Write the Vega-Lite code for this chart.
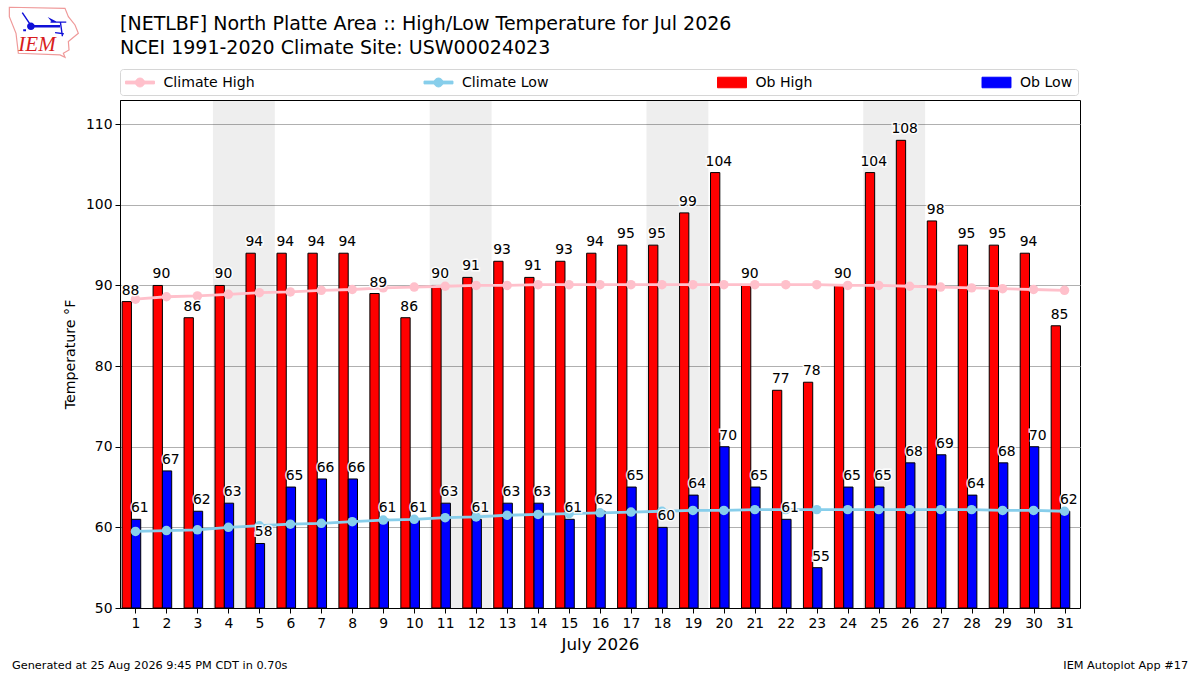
{"$schema":"https://vega.github.io/schema/vega-lite/v6.json","width":960,"height":508,"autosize":"none","padding":{"left":120,"top":100,"right":120,"bottom":67},"background":"white",
"config":{"font":"DejaVu Sans","view":{"stroke":"black","strokeWidth":1},"text":{"font":"DejaVu Sans"}},
"title":{"text":["[NETLBF] North Platte Area :: High/Low Temperature for Jul 2026","NCEI 1991-2020 Climate Site: USW00024023"],"anchor":"start","frame":"group","font":"DejaVu Sans","fontSize":19,"fontWeight":"normal","color":"black","lineHeight":24,"offset":-53},
"datasets":{"weekends":[{"start":3.5,"end":5.5},{"start":10.5,"end":12.5},{"start":17.5,"end":19.5},{"start":24.5,"end":26.5}],
"obhigh":[{"day":1,"series":"Ob High","value":88},{"day":2,"series":"Ob High","value":90},{"day":3,"series":"Ob High","value":86},{"day":4,"series":"Ob High","value":90},{"day":5,"series":"Ob High","value":94},{"day":6,"series":"Ob High","value":94},{"day":7,"series":"Ob High","value":94},{"day":8,"series":"Ob High","value":94},{"day":9,"series":"Ob High","value":89},{"day":10,"series":"Ob High","value":86},{"day":11,"series":"Ob High","value":90},{"day":12,"series":"Ob High","value":91},{"day":13,"series":"Ob High","value":93},{"day":14,"series":"Ob High","value":91},{"day":15,"series":"Ob High","value":93},{"day":16,"series":"Ob High","value":94},{"day":17,"series":"Ob High","value":95},{"day":18,"series":"Ob High","value":95},{"day":19,"series":"Ob High","value":99},{"day":20,"series":"Ob High","value":104},{"day":21,"series":"Ob High","value":90},{"day":22,"series":"Ob High","value":77},{"day":23,"series":"Ob High","value":78},{"day":24,"series":"Ob High","value":90},{"day":25,"series":"Ob High","value":104},{"day":26,"series":"Ob High","value":108},{"day":27,"series":"Ob High","value":98},{"day":28,"series":"Ob High","value":95},{"day":29,"series":"Ob High","value":95},{"day":30,"series":"Ob High","value":94},{"day":31,"series":"Ob High","value":85}],
"oblow":[{"day":1,"series":"Ob Low","value":61},{"day":2,"series":"Ob Low","value":67},{"day":3,"series":"Ob Low","value":62},{"day":4,"series":"Ob Low","value":63},{"day":5,"series":"Ob Low","value":58},{"day":6,"series":"Ob Low","value":65},{"day":7,"series":"Ob Low","value":66},{"day":8,"series":"Ob Low","value":66},{"day":9,"series":"Ob Low","value":61},{"day":10,"series":"Ob Low","value":61},{"day":11,"series":"Ob Low","value":63},{"day":12,"series":"Ob Low","value":61},{"day":13,"series":"Ob Low","value":63},{"day":14,"series":"Ob Low","value":63},{"day":15,"series":"Ob Low","value":61},{"day":16,"series":"Ob Low","value":62},{"day":17,"series":"Ob Low","value":65},{"day":18,"series":"Ob Low","value":60},{"day":19,"series":"Ob Low","value":64},{"day":20,"series":"Ob Low","value":70},{"day":21,"series":"Ob Low","value":65},{"day":22,"series":"Ob Low","value":61},{"day":23,"series":"Ob Low","value":55},{"day":24,"series":"Ob Low","value":65},{"day":25,"series":"Ob Low","value":65},{"day":26,"series":"Ob Low","value":68},{"day":27,"series":"Ob Low","value":69},{"day":28,"series":"Ob Low","value":64},{"day":29,"series":"Ob Low","value":68},{"day":30,"series":"Ob Low","value":70},{"day":31,"series":"Ob Low","value":62}],
"climate":[{"day":1,"series":"Climate High","value":88.3},{"day":2,"series":"Climate High","value":88.6},{"day":3,"series":"Climate High","value":88.7},{"day":4,"series":"Climate High","value":88.9},{"day":5,"series":"Climate High","value":89.1},{"day":6,"series":"Climate High","value":89.2},{"day":7,"series":"Climate High","value":89.4},{"day":8,"series":"Climate High","value":89.5},{"day":9,"series":"Climate High","value":89.7},{"day":10,"series":"Climate High","value":89.8},{"day":11,"series":"Climate High","value":89.9},{"day":12,"series":"Climate High","value":90},{"day":13,"series":"Climate High","value":90},{"day":14,"series":"Climate High","value":90.1},{"day":15,"series":"Climate High","value":90.1},{"day":16,"series":"Climate High","value":90.1},{"day":17,"series":"Climate High","value":90.1},{"day":18,"series":"Climate High","value":90.1},{"day":19,"series":"Climate High","value":90.1},{"day":20,"series":"Climate High","value":90.1},{"day":21,"series":"Climate High","value":90.1},{"day":22,"series":"Climate High","value":90.1},{"day":23,"series":"Climate High","value":90.1},{"day":24,"series":"Climate High","value":90},{"day":25,"series":"Climate High","value":90},{"day":26,"series":"Climate High","value":89.9},{"day":27,"series":"Climate High","value":89.8},{"day":28,"series":"Climate High","value":89.7},{"day":29,"series":"Climate High","value":89.6},{"day":30,"series":"Climate High","value":89.5},{"day":31,"series":"Climate High","value":89.4},
{"day":1,"series":"Climate Low","value":59.5},{"day":2,"series":"Climate Low","value":59.6},{"day":3,"series":"Climate Low","value":59.7},{"day":4,"series":"Climate Low","value":60},{"day":5,"series":"Climate Low","value":60.2},{"day":6,"series":"Climate Low","value":60.4},{"day":7,"series":"Climate Low","value":60.5},{"day":8,"series":"Climate Low","value":60.7},{"day":9,"series":"Climate Low","value":60.9},{"day":10,"series":"Climate Low","value":61},{"day":11,"series":"Climate Low","value":61.2},{"day":12,"series":"Climate Low","value":61.3},{"day":13,"series":"Climate Low","value":61.5},{"day":14,"series":"Climate Low","value":61.6},{"day":15,"series":"Climate Low","value":61.7},{"day":16,"series":"Climate Low","value":61.8},{"day":17,"series":"Climate Low","value":61.9},{"day":18,"series":"Climate Low","value":62},{"day":19,"series":"Climate Low","value":62.1},{"day":20,"series":"Climate Low","value":62.1},{"day":21,"series":"Climate Low","value":62.2},{"day":22,"series":"Climate Low","value":62.2},{"day":23,"series":"Climate Low","value":62.2},{"day":24,"series":"Climate Low","value":62.2},{"day":25,"series":"Climate Low","value":62.2},{"day":26,"series":"Climate Low","value":62.2},{"day":27,"series":"Climate Low","value":62.2},{"day":28,"series":"Climate Low","value":62.2},{"day":29,"series":"Climate Low","value":62.1},{"day":30,"series":"Climate Low","value":62.1},{"day":31,"series":"Climate Low","value":62}],
"one":[{"note":"annotation"}]},
"layer":[
{"data":{"name":"weekends"},"mark":{"type":"rect","fill":"black","opacity":0.067},"encoding":{"x":{"field":"start","type":"quantitative","scale":{"domain":[0.5,31.5],"nice":false,"zero":false,"padding":0},"axis":{"title":"July 2026","titleFontSize":16.7,"titleFontWeight":"normal","titleColor":"black","titleFont":"DejaVu Sans","titlePadding":7,"tickCount":31,"values":[1,2,3,4,5,6,7,8,9,10,11,12,13,14,15,16,17,18,19,20,21,22,23,24,25,26,27,28,29,30,31],"format":"d","labelFontSize":13.9,"labelColor":"black","labelFont":"DejaVu Sans","labelPadding":3,"labelOverlap":false,"tickColor":"black","tickSize":5,"domainColor":"black","grid":false}},"x2":{"field":"end"}}},
{"data":{"name":"obhigh"},"mark":{"type":"bar","width":9.3,"xOffset":-8.7,"stroke":"black","strokeWidth":1},"encoding":{"x":{"field":"day","type":"quantitative"},"y":{"field":"value","type":"quantitative","scale":{"domain":[50,113],"nice":false,"zero":false},"axis":{"title":"Temperature °F","titleFontSize":14.2,"titleFontWeight":"normal","titleColor":"black","titleFont":"DejaVu Sans","titlePadding":8,"values":[50,60,70,80,90,100,110],"labelFontSize":13.9,"labelColor":"black","labelFont":"DejaVu Sans","labelPadding":3,"tickColor":"black","tickSize":5,"domainColor":"black","grid":true,"gridColor":"#b0b0b0","gridWidth":1}},"y2":{"datum":50},"color":{"field":"series","type":"nominal","scale":{"domain":["Climate High","Climate Low","Ob High","Ob Low"],"range":["#FFC0CB","#87CEEB","#FF0000","#0000FF"]},"legend":{"title":null,"orient":"none","legendX":0,"legendY":-31,"direction":"horizontal","columns":4,"gridAlign":"none","columnPadding":166.5,"padding":5,"strokeColor":"#d6d6d6","fillColor":"white","cornerRadius":3,"symbolSize":256,"symbolOffset":6.5,"labelOffset":15,"labelFont":"DejaVu Sans","labelFontSize":14.1,"labelColor":"black","symbolOpacity":1,"encoding":{"symbols":{"shape":{"value":{"signal":"indexof(['Climate High','Climate Low'],datum.value)>=0 ? 'M-1.81,-0.175H1.81V0.175H-1.81Z M-0.56,0A0.56,0.56,0,1,1,0.56,0A0.56,0.56,0,1,1,-0.56,0Z' : 'M-1.81,-0.66H1.81V0.66H-1.81Z'"}},"stroke":{"value":{"signal":"indexof(['Climate High','Climate Low'],datum.value)>=0 ? 'transparent' : 'black'"}},"strokeWidth":{"value":1},"fill":{"value":{"signal":"scale('color',datum.value)"}}}}}}}},
{"data":{"name":"oblow"},"mark":{"type":"bar","width":9.3,"xOffset":0.6,"stroke":"black","strokeWidth":1},"encoding":{"x":{"field":"day","type":"quantitative"},"y":{"field":"value","type":"quantitative"},"y2":{"datum":50},"color":{"field":"series","type":"nominal"}}},
{"data":{"name":"climate"},"mark":{"type":"line","strokeWidth":2.8},"encoding":{"x":{"field":"day","type":"quantitative"},"y":{"field":"value","type":"quantitative"},"color":{"field":"series","type":"nominal"}}},
{"data":{"name":"climate"},"mark":{"type":"point","filled":true,"size":90,"opacity":1},"encoding":{"x":{"field":"day","type":"quantitative"},"y":{"field":"value","type":"quantitative"},"color":{"field":"series","type":"nominal"}}},
{"data":{"name":"obhigh"},"mark":{"type":"text","dx":-5,"dy":-7,"baseline":"alphabetic","fontSize":13.9,"stroke":"white","strokeWidth":3,"strokeOpacity":0.9},"encoding":{"x":{"field":"day","type":"quantitative"},"y":{"field":"value","type":"quantitative"},"text":{"field":"value","type":"quantitative"}}},
{"data":{"name":"oblow"},"mark":{"type":"text","dx":4.3,"dy":-7,"baseline":"alphabetic","fontSize":13.9,"stroke":"white","strokeWidth":3,"strokeOpacity":0.9},"encoding":{"x":{"field":"day","type":"quantitative"},"y":{"field":"value","type":"quantitative"},"text":{"field":"value","type":"quantitative"}}},
{"data":{"name":"obhigh"},"mark":{"type":"text","dx":-5,"dy":-7,"baseline":"alphabetic","fontSize":13.9,"fill":"black"},"encoding":{"x":{"field":"day","type":"quantitative"},"y":{"field":"value","type":"quantitative"},"text":{"field":"value","type":"quantitative"}}},
{"data":{"name":"oblow"},"mark":{"type":"text","dx":4.3,"dy":-7,"baseline":"alphabetic","fontSize":13.9,"fill":"black"},"encoding":{"x":{"field":"day","type":"quantitative"},"y":{"field":"value","type":"quantitative"},"text":{"field":"value","type":"quantitative"}}},
{"data":{"name":"one"},"mark":{"type":"text","align":"left","baseline":"middle","fontSize":11.3,"fill":"black","text":"Generated at 25 Aug 2026 9:45 PM CDT in 0.70s"},"encoding":{"x":{"datum":-2.99},"y":{"datum":42.81}}},
{"data":{"name":"one"},"mark":{"type":"text","align":"right","baseline":"middle","fontSize":11.3,"fill":"black","text":"IEM Autoplot App #17"},"encoding":{"x":{"datum":34.99},"y":{"datum":42.81}}},
{"data":{"name":"one"},"mark":{"type":"point","shape":"M-0.976,-0.705L0.614,-0.676L0.71,-0.438L0.9,-0.2L0.995,0.038L0.71,0.276L0.729,0.514L0.567,0.61L0.614,0.724L0.471,0.657L-0.719,0.61L-0.786,0.038L-0.976,-0.438Z","size":4900,"filled":false,"stroke":"#ef9a9a","strokeWidth":1.2,"opacity":1},"encoding":{"x":{"datum":-1.97},"y":{"datum":121.44}}},
{"data":{"name":"one"},"mark":{"type":"point","shape":"M-0.357,-0.2L0.471,-0.2L0.471,-0.13L-0.357,-0.13Z M-0.47,-0.162A0.11,0.11,0,1,1,-0.25,-0.162A0.11,0.11,0,1,1,-0.47,-0.162Z M-0.37,-0.16L-0.624,-0.543L-0.59,-0.56L-0.33,-0.18Z M0.119,-0.429L0.424,-0.27L0.25,-0.27Z M0.2,-0.3L0.65,-0.3L0.65,-0.26L0.2,-0.26Z M0.46,-0.3L0.5,-0.3L0.56,0.124L0.52,0.124Z M0.33,0.0L0.58,0.03L0.58,0.07L0.33,0.04Z M-0.58,-0.08L-0.5,-0.08L-0.5,-0.02L-0.58,-0.02Z","size":4900,"filled":true,"fill":"#1010d8","stroke":null,"opacity":1},"encoding":{"x":{"datum":-1.97},"y":{"datum":121.44}}},
{"data":{"name":"one"},"mark":{"type":"text","align":"center","baseline":"middle","font":"Liberation Serif","fontStyle":"italic","fontSize":21,"fill":"#d81c20","text":"IEM"},"encoding":{"x":{"datum":-2.18},"y":{"datum":119.8}}}
]}
